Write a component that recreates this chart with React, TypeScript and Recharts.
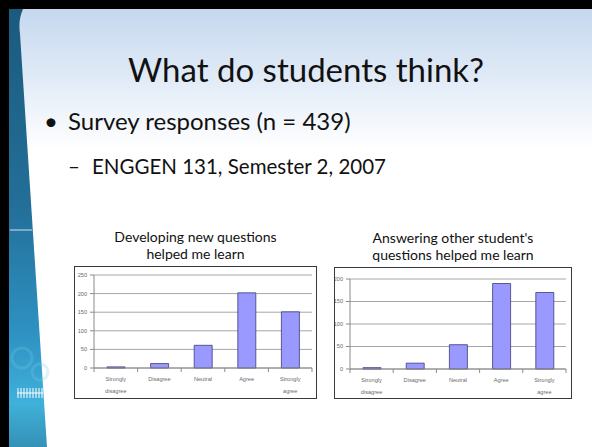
import { Bar, BarChart, CartesianGrid, XAxis, YAxis } from "recharts"

const categories = ["Strongly disagree", "Disagree", "Neutral", "Agree", "Strongly agree"]
const developingCounts = [3, 12, 61, 202, 151]
const answeringCounts = [3, 13, 54, 190, 170]
const developingTicks = [0, 50, 100, 150, 200, 250]
const answeringTicks = [0, 50, 100, 150, 200]

const developingData = categories.map((name, i) => ({ name, count: developingCounts[i] }))
const answeringData = categories.map((name, i) => ({ name, count: answeringCounts[i] }))

const slideFont = 'Lato, "Open Sans", sans-serif'
const axisFont = '"Liberation Sans", Arial, sans-serif'

function CategoryTick(props: any) {
  const { x, y, payload, index } = props
  const half = payload && typeof payload.offset === "number" ? payload.offset : 0
  const words = String(payload.value).split(" ")
  return (
    <g>
      {half > 0 && (
        <line x1={x + half} x2={x + half} y1={y} y2={y + 4} stroke="#8a8a8a" strokeWidth={1} />
      )}
      {half > 0 && index === 0 && (
        <line x1={x - half} x2={x - half} y1={y} y2={y + 4} stroke="#8a8a8a" strokeWidth={1} />
      )}
      <text x={x} y={y} textAnchor="middle" fontSize={5.6} fill="#6a6a6a" fontFamily={axisFont}>
        {words.map((w, i) => (
          <tspan key={i} x={x} dy={i === 0 ? 13 : 12}>
            {w}
          </tspan>
        ))}
      </text>
    </g>
  )
}

type ChartProps = {
  title: string[]
  data: { name: string; count: number }[]
  ticks: number[]
  left: number
  top: number
  width: number
  height: number
  margin: { top: number; right: number; left: number; bottom: number }
  yWidth: number
  xHeight: number
}

function SurveyChart(p: ChartProps) {
  const max = p.ticks[p.ticks.length - 1]
  return (
    <>
      <div
        style={{
          position: "absolute",
          left: p.left,
          top: p.top - 38,
          width: p.width,
          textAlign: "center",
          fontFamily: slideFont,
          fontSize: 14,
          lineHeight: "17px",
          color: "#111",
        }}
      >
        {p.title.map((t) => (
          <div key={t}>{t}</div>
        ))}
      </div>
      <div
        style={{
          position: "absolute",
          left: p.left,
          top: p.top,
          width: p.width - 2,
          height: p.height - 2,
          border: "1px solid #3a3a3a",
          background: "#ffffff",
        }}
      >
        <BarChart width={p.width - 2} height={p.height - 2} data={p.data} margin={p.margin} barSize={18}>
          <CartesianGrid vertical={false} stroke="#a6a6a6" strokeWidth={1} />
          <XAxis
            dataKey="name"
            height={p.xHeight}
            interval={0}
            tickLine={false}
            tickSize={0}
            tickMargin={0}
            axisLine={{ stroke: "#8a8a8a" }}
            tick={<CategoryTick />}
          />
          <YAxis
            width={p.yWidth}
            domain={[0, max]}
            ticks={p.ticks}
            interval={0}
            tickSize={4}
            tickMargin={3}
            axisLine={{ stroke: "#8a8a8a" }}
            tickLine={{ stroke: "#8a8a8a" }}
            tick={{ fontSize: 5.6, fill: "#6a6a6a", fontFamily: axisFont }}
          />
          <Bar dataKey="count" fill="#9999ff" stroke="#3b3b78" strokeWidth={0.8} isAnimationActive={false} />
        </BarChart>
      </div>
    </>
  )
}

function Backdrop() {
  return (
    <svg width={592} height={447} style={{ position: "absolute", left: 0, top: 0 }}>
      <defs>
        <linearGradient id="sky" x1="0" y1="0" x2="0" y2="1">
          <stop offset="0" stopColor="#c5d8ee" />
          <stop offset="0.55" stopColor="#e4edf8" />
          <stop offset="1" stopColor="#ffffff" />
        </linearGradient>
        <linearGradient id="stripe" x1="0" y1="0" x2="0" y2="1">
          <stop offset="0" stopColor="#1b5a7d" />
          <stop offset="0.45" stopColor="#236f99" />
          <stop offset="0.75" stopColor="#2f93c3" />
          <stop offset="0.9" stopColor="#3fb1da" />
          <stop offset="1" stopColor="#3591b6" />
        </linearGradient>
      </defs>
      <rect x={0} y={0} width={592} height={447} fill="#ffffff" />
      <rect x={0} y={9} width={592} height={140} fill="url(#sky)" />
      <path d="M9,9 L23,9 C19,18 19,26 20,34 L47,447 L9,447 Z" fill="url(#stripe)" />
      <line x1={10} x2={32} y1={230} y2={230} stroke="#cfe3ee" strokeWidth={1} />
      <g fill="none" stroke="#7ccbe8" strokeOpacity={0.25} strokeWidth={3}>
        <circle cx={22} cy={358} r={10} />
        <circle cx={40} cy={372} r={8} />
      </g>
      <g stroke="#ffffff" strokeWidth={1}>
        {[18, 21, 24, 27, 30, 33, 36, 39, 42].map((x) => (
          <line key={x} x1={x} x2={x} y1={388} y2={398} />
        ))}
      </g>
      <line x1={17} x2={43} y1={393} y2={393} stroke="#ffffff" strokeWidth={1} />
      <rect x={0} y={0} width={592} height={9} fill="#000000" />
      <rect x={0} y={0} width={9} height={447} fill="#000000" />
    </svg>
  )
}

export default function App() {
  return (
    <div
      style={{
        position: "absolute",
        left: 0,
        top: 0,
        width: 592,
        height: 447,
        overflow: "hidden",
        fontFamily: slideFont,
      }}
    >
      <Backdrop />
      <div
        style={{
          position: "absolute",
          left: 20,
          top: 50,
          width: 572,
          textAlign: "center",
          fontSize: 33,
          lineHeight: 1.2,
          color: "#111",
        }}
      >
        What do students think?
      </div>
      <div style={{ position: "absolute", left: 44, top: 107, fontSize: 24, lineHeight: 1.2, color: "#111" }}>
        <span style={{ display: "inline-block", width: 24 }}>•</span>Survey responses (n = 439)
      </div>
      <div style={{ position: "absolute", left: 68, top: 154, fontSize: 20.5, lineHeight: 1.2, color: "#111" }}>
        <span style={{ display: "inline-block", width: 24 }}>–</span>ENGGEN 131, Semester 2, 2007
      </div>
      <SurveyChart
        title={["Developing new questions", "helped me learn"]}
        data={developingData}
        ticks={developingTicks}
        left={74}
        top={266}
        width={243}
        height={133}
        margin={{ top: 8, right: 4, left: 0, bottom: 0 }}
        yWidth={19}
        xHeight={30}
      />
      <SurveyChart
        title={["Answering other student's", "questions helped me learn"]}
        data={answeringData}
        ticks={answeringTicks}
        left={334}
        top={267}
        width={238}
        height={132}
        margin={{ top: 11, right: 5, left: 0, bottom: 0 }}
        yWidth={15}
        xHeight={29}
      />
    </div>
  )
}
